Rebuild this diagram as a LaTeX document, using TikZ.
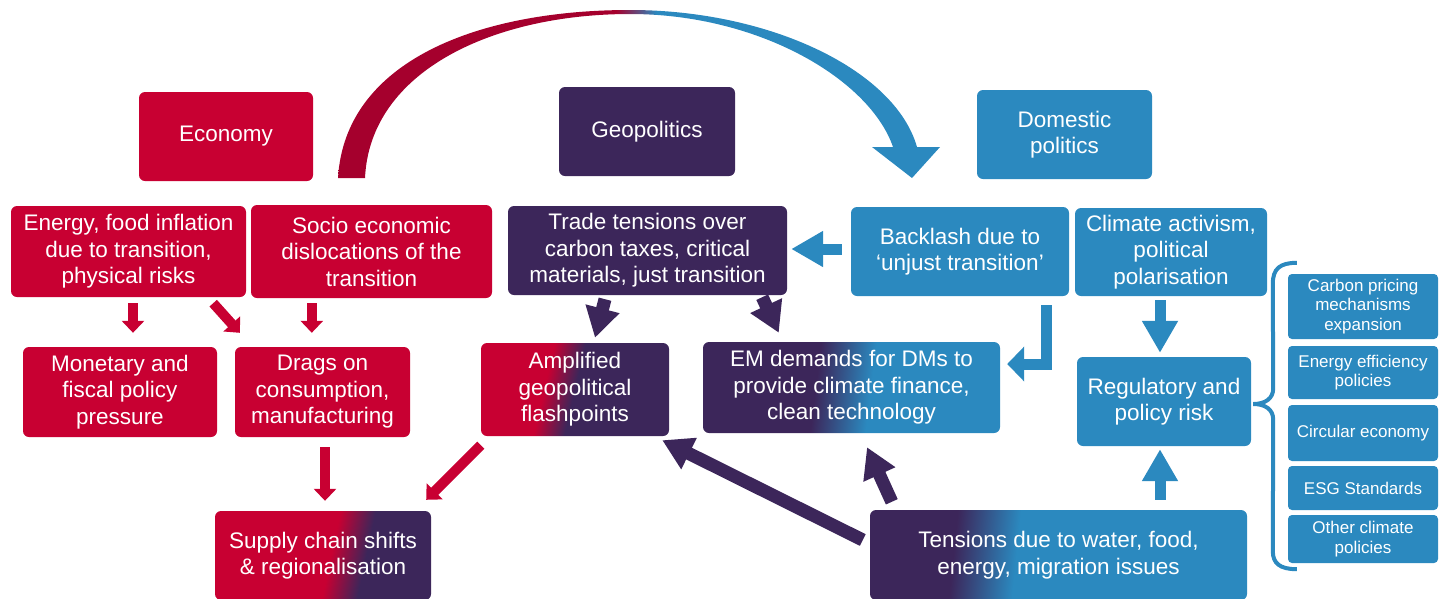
\documentclass[tikz,border=0pt]{standalone}
\usepackage{fontspec}
\setmainfont{Liberation Sans}
\usetikzlibrary{arrows.meta}
\usetikzlibrary{calc}
\definecolor{ecored}{RGB}{200,0,50}
\definecolor{arcred}{RGB}{165,0,45}
\definecolor{geopurp}{RGB}{60,38,90}
\definecolor{domblue}{RGB}{43,137,191}
\pgfdeclarehorizontalshading{arcshade}{100bp}{color(0bp)=(arcred); color(49bp)=(arcred); color(52.5bp)=(domblue); color(100bp)=(domblue)}
\pgfdeclarehorizontalshading{supplyshade}{100bp}{color(0bp)=(ecored); color(52bp)=(ecored); color(61bp)=(geopurp); color(100bp)=(geopurp)}
\pgfdeclarehorizontalshading{amplshade}{100bp}{color(0bp)=(ecored); color(41bp)=(ecored); color(50bp)=(geopurp); color(100bp)=(geopurp)}
\pgfdeclarehorizontalshading{emshade}{100bp}{color(0bp)=(geopurp); color(43.5bp)=(geopurp); color(53.5bp)=(domblue); color(100bp)=(domblue)}
\pgfdeclarehorizontalshading{tensshade}{100bp}{color(0bp)=(geopurp); color(35bp)=(geopurp); color(44bp)=(domblue); color(100bp)=(domblue)}
\tikzset{
  box/.style={rounded corners=6pt, text=white, align=center, inner sep=0pt,
    font=\fontsize{22.5}{26.5}\selectfont},
  ecobox/.style={box, fill=ecored},
  geobox/.style={box, fill=geopurp},
  dombox/.style={box, fill=domblue},
  mixbox/.style={box, shade},
  policybox/.style={box, fill=domblue, rounded corners=4pt,
    font=\fontsize{17}{19.5}\selectfont},
  redarrow/.style={draw=ecored, line width=10pt, -{Triangle[length=12pt,width=22pt]}},
  purparrow/.style={draw=geopurp, line width=13pt, -{Triangle[length=30pt,width=33pt]}},
  bluearrow/.style={draw=domblue, line width=11pt, -{Triangle[length=32pt,width=34pt]}}
}
\begin{document}
\begin{tikzpicture}[x=1pt,y=-1pt]
\useasboundingbox (0,0) rectangle (1445,598);
\clip (0,0) rectangle (1445,598);
% big arc
\shade[shading=arcshade] (338,178) .. controls (345,60) and (480,10) .. (630,10)
  .. controls (770,10) and (895,70) .. (917,147) -- (893,147)
  .. controls (870,80) and (760,14) .. (630,14)
  .. controls (495,14) and (370,70) .. (365,178) -- cycle;
\fill[domblue] (872,147) -- (940,147) -- (912,178) -- cycle;
% headers
\node[ecobox, minimum width=174pt, minimum height=89pt] (eco) at (226,136.5) {Economy};
\node[geobox, minimum width=176pt, minimum height=89pt] (geo) at (647,131.5) {Geopolitics};
\node[dombox, minimum width=175pt, minimum height=89pt] (dom) at (1064.5,134.5) {Domestic\\politics};
% second row
\node[ecobox, minimum width=235pt, minimum height=91pt] (infl) at (128.5,251.5) {Energy, food inflation\\due to transition,\\physical risks};
\node[ecobox, minimum width=241pt, minimum height=93pt] (socio) at (371.5,251.5) {Socio economic\\dislocations of the\\transition};
\node[geobox, minimum width=279pt, minimum height=89pt] (trade) at (647.5,250.5) {Trade tensions over\\carbon taxes, critical\\materials, just transition};
\node[dombox, minimum width=218pt, minimum height=89pt] (backlash) at (960,251.5) {Backlash due to\\‘unjust transition’};
\node[dombox, minimum width=192pt, minimum height=88pt] (activism) at (1171,252) {Climate activism,\\political\\polarisation};
% third row
\node[ecobox, minimum width=194pt, minimum height=90pt] (monetary) at (120,392) {Monetary and\\fiscal policy\\pressure};
\node[ecobox, minimum width=175pt, minimum height=90pt] (drags) at (322.5,392) {Drags on\\consumption,\\manufacturing};
\node[mixbox, shading=amplshade, shading angle=-13, minimum width=188pt, minimum height=93pt] (amplified) at (575,389.5) {Amplified\\geopolitical\\flashpoints};
\node[mixbox, shading=emshade, shading angle=-7, minimum width=297pt, minimum height=91pt] (emdem) at (851.5,387.5) {EM demands for DMs to\\provide climate finance,\\clean technology};
\node[dombox, minimum width=174pt, minimum height=89pt] (regul) at (1164,401.5) {Regulatory and\\policy risk};
% bottom row
\node[mixbox, shading=supplyshade, shading angle=-12, minimum width=216pt, minimum height=89pt] (supply) at (323,555.5) {Supply chain shifts\\\& regionalisation};
\node[mixbox, shading=tensshade, shading angle=-6, minimum width=377pt, minimum height=90pt] (tensions) at (1058.5,555) {Tensions due to water, food,\\energy, migration issues};
% policy list
\node[policybox, minimum width=150pt, minimum height=65pt] (carbon) at (1363,306.5) {Carbon pricing\\mechanisms\\expansion};
\node[policybox, minimum width=150pt, minimum height=53pt] (effic) at (1363,372.5) {Energy efficiency\\policies};
\node[policybox, minimum width=150pt, minimum height=56pt] (circular) at (1363,433) {Circular economy};
\node[policybox, minimum width=150pt, minimum height=44pt] (esg) at (1363,488) {ESG Standards};
\node[policybox, minimum width=150pt, minimum height=48pt] (other) at (1363,539) {Other climate\\policies};
\draw[domblue, line width=4pt] ($(carbon.north west)+(9,-11)$) .. controls ($(carbon.north west)+(-8,-11)$) and ($(carbon.north west)+(-15,-5)$) .. ($(carbon.north west)+(-15,10)$)
  -- ($(regul.east)+(22,-13)$) .. controls ($(regul.east)+(22,-3)$) and ($(regul.east)+(14,2.5)$) .. ($(regul.east)+(2,2.5)$)
  .. controls ($(regul.east)+(14,2.5)$) and ($(regul.east)+(22,8)$) .. ($(regul.east)+(22,18)$)
  -- ($(other.south west)+(-15,-12)$) .. controls ($(other.south west)+(-15,0)$) and ($(other.south west)+(-8,6)$) .. ($(other.south west)+(9,6)$);
% connectors
\draw[redarrow] ($(infl.south)+(4.5,6)$) -- ($(monetary.north)+(13,-14)$);
\draw[redarrow] ($(infl.south east)+(-33,6)$) -- ($(drags.north west)+(5,-14)$);
\draw[redarrow] ($(socio.south west)+(61,5)$) -- ($(drags.north west)+(77,-14)$);
\draw[redarrow] ($(drags.south)+(2.5,10)$) -- ($(supply.north)+(2,-10)$);
\draw[redarrow] ($(amplified.south west)+(0,9)$) -- ($(supply.north east)+(-5,-11)$);
\draw[purparrow] ($(trade.south)+(-42.5,4)$) -- ($(amplified.north)+(20,-5)$);
\draw[purparrow] ($(trade.south east)+(-25,2)$) -- ($(emdem.north west)+(76,-9)$);
\draw[bluearrow] ($(backlash.west)+(-9,-2.5)$) -- ($(trade.east)+(4,-1.5)$);
\draw[bluearrow, -{Triangle[length=17pt,width=34pt]}] ($(backlash.south east)+(-23,9)$) |- ($(emdem.east)+(7,-23.5)$);
\draw[bluearrow] ($(activism.south)+(-11,4)$) -- ($(regul.north)+(-4,-4)$);
\draw[bluearrow] ($(tensions.north)+(101.5,-10)$) -- ($(regul.south)+(-4,3)$);
\draw[purparrow] ($(tensions.west)+(-7,-15)$) -- ($(amplified.south east)+(-7,4)$);
\draw[purparrow] ($(tensions.north west)+(22,-8)$) -- ($(emdem.south)+(15.5,14)$);
\end{tikzpicture}
\end{document}
